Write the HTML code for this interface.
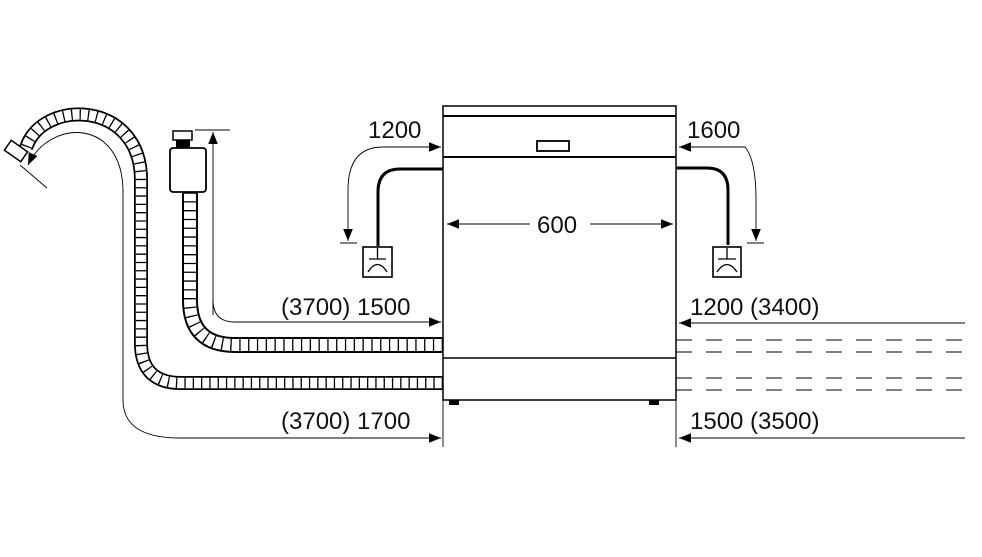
<!DOCTYPE html>
<html><head><meta charset="utf-8"><style>
html,body{margin:0;padding:0;background:#fff;}
svg{display:block;}
text{font-family:"Liberation Sans",sans-serif;font-size:24px;fill:#111;}
</style></head><body>
<svg width="982" height="557" viewBox="0 0 982 557" xmlns="http://www.w3.org/2000/svg">
<defs>
<marker id="ah" viewBox="0 0 10 10" refX="10" refY="5" markerWidth="14" markerHeight="12" markerUnits="userSpaceOnUse" orient="auto">
<path d="M0,1 L10,5 L0,9 Z" fill="#000"/></marker>
</defs>
<g fill="none">
<path d="M443,383 L181,383 Q141,383 141,343 L141,180 C141,100 42,98 26,148" stroke="#000" stroke-width="14"/>
<path d="M443,383 L181,383 Q141,383 141,343 L141,180 C141,100 42,98 26,148" stroke="#fff" stroke-width="10.5"/>
<path d="M443,383 L181,383 Q141,383 141,343 L141,180 C141,100 42,98 26,148" stroke="#000" stroke-width="10.5" stroke-dasharray="1.3 7"/>
<path d="M443,345 L235,345 Q190,345 190,300 L190,192" stroke="#000" stroke-width="16"/>
<path d="M443,345 L235,345 Q190,345 190,300 L190,192" stroke="#fff" stroke-width="12"/>
<path d="M443,345 L235,345 Q190,345 190,300 L190,192" stroke="#000" stroke-width="12" stroke-dasharray="1.3 7.5"/>
</g>
<rect x="6" y="145" width="20" height="12" fill="#fff" stroke="#000" stroke-width="1.5" transform="rotate(35 16 151)"/>
<rect x="170" y="148" width="36" height="44" rx="3" fill="#fff" stroke="#000" stroke-width="1.8"/>
<rect x="173" y="131" width="19" height="9" fill="#fff" stroke="#000" stroke-width="1.5"/>
<rect x="176" y="140" width="14" height="8" fill="#000"/>
<g fill="none" stroke="#000" stroke-width="0.9">
<path d="M195,130 H230"/>
<path d="M213,315 L213,132" marker-end="url(#ah)"/>
<path d="M213,300 Q213,322 235,322 L441,322" marker-end="url(#ah)"/>
<path d="M123,190 L123,400 Q123,438 180,438 L441,438" marker-end="url(#ah)"/>
<path d="M123,192 C123,118 50,118 28,165" marker-end="url(#ah)"/>
<path d="M20,165 L47,188"/>
<path d="M383,147 Q348,147 348,190 L348,241" marker-end="url(#ah)"/>
<path d="M383,147 L441,147" marker-end="url(#ah)"/>
<path d="M340,243 H357"/>
<path d="M745,147 Q756,160 756,200 L756,241" marker-end="url(#ah)"/>
<path d="M745,147 Q730,147 679,147" marker-end="url(#ah)"/>
<path d="M747,243 H764"/>
<path d="M965,323 L679,323" marker-end="url(#ah)"/>
<path d="M965,438 L679,438" marker-end="url(#ah)"/>
<path d="M443,400 V447 M676,400 V447"/>
<path d="M530,224 L447,224" marker-end="url(#ah)"/>
<path d="M590,224 L673,224" marker-end="url(#ah)"/>
</g>
<g stroke="#000" stroke-width="1" stroke-dasharray="16 14">
<path d="M676,340 H965 M676,352 H965 M676,378 H965 M676,390 H965"/>
</g>
<g fill="none" stroke="#000">
<rect x="443" y="106" width="233" height="294" stroke-width="1.5"/>
<path d="M443,116 H676" stroke-width="2"/>
<path d="M443,157 H676" stroke-width="2"/>
<path d="M443,358 H676" stroke-width="1.5"/>
<rect x="537" y="141" width="32" height="10" stroke-width="1.8"/>
</g>
<rect x="449" y="400" width="10" height="5" fill="#000"/>
<rect x="649" y="400" width="10" height="5" fill="#000"/>
<g fill="none" stroke="#000" stroke-width="3">
<path d="M443,169 L400,169 Q378,169 378,192 L378,246"/>
<path d="M676,168 L707,168 Q728,168 728,190 L728,245"/>
</g>
<g fill="#fff" stroke="#000" stroke-width="1.6">
<rect x="363" y="247" width="29" height="30"/>
<rect x="713" y="247" width="28" height="30"/>
</g>
<g fill="none" stroke="#000" stroke-width="1.3">
<path d="M377.5,248 V259 M369,259 H386 M368,272 Q377.5,257 387,272"/>
<path d="M727,248 V259 M718,259 H736 M717,272 Q727,257 737,272"/>
</g>
<text x="368" y="138">1200</text>
<text x="687" y="138">1600</text>
<text x="537" y="233">600</text>
<text x="281" y="315">(3700) 1500</text>
<text x="281" y="429">(3700) 1700</text>
<text x="690" y="315">1200 (3400)</text>
<text x="690" y="429">1500 (3500)</text>
</svg>
</body></html>
